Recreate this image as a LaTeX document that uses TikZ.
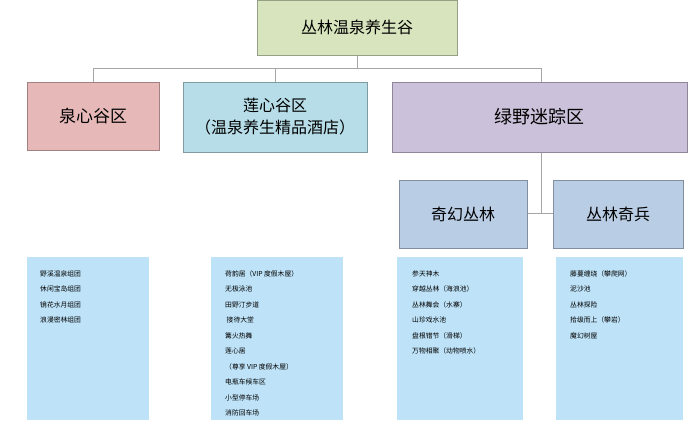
\documentclass[tikz,border=0pt]{standalone}
\usepackage{fontspec}
\setmainfont{Noto Sans CJK SC}
\begin{document}
\begin{tikzpicture}[x=1pt,y=-1pt,
 bx/.style={draw=#1!70!black,line width=0.6pt,inner sep=0pt},
 lst/.style={fill=lb,draw=none},
 item/.style={anchor=west,font=\fontsize{6.8}{7}\selectfont,inner sep=0pt},
 ln/.style={draw=gray!70,line width=0.8pt}]
\definecolor{gtop}{HTML}{D7E4BD}
\definecolor{pk}{HTML}{E6B9B8}
\definecolor{bl}{HTML}{B7DEE8}
\definecolor{lv}{HTML}{CCC1DA}
\definecolor{sb}{HTML}{B9CDE5}
\definecolor{lb}{HTML}{BEE3F8}
\useasboundingbox (0,0) rectangle (700,420);
\fill[white] (0,0) rectangle (700,420);
% connectors
\coordinate (h1) at (93,68); \coordinate (h2) at (541,68);
\draw[ln] (357,55) -- (357,68);
\draw[ln] (h1) -- (h2);
\draw[ln] (93,68) -- (93,82);
\draw[ln] (275,68) -- (275,82);
\draw[ln] (541,68) -- (541,82);
\draw[ln] (541,152) -- (541,213);
\draw[ln] (527,213) -- (553,213);
% boxes
\node[bx=gtop,fill=gtop,minimum width=200pt,minimum height=55pt,font=\fontsize{16}{18}\selectfont] (top) at (357,27.5) {丛林温泉养生谷};
\node[bx=pk,fill=pk,minimum width=132pt,minimum height=68pt,font=\fontsize{17}{18}\selectfont] (a) at (93,116) {泉心谷区};
\node[bx=bl,fill=bl,minimum width=184pt,minimum height=70pt,font=\fontsize{16}{22}\selectfont,align=center] (b) at (275,117) {莲心谷区\\（温泉养生精品酒店）};
\node[bx=lv,fill=lv,minimum width=295pt,minimum height=70pt,font=\fontsize{18}{18}\selectfont] (c) at (539.5,117) {绿野迷踪区};
\node[bx=sb,fill=sb,minimum width=128pt,minimum height=68pt,font=\fontsize{16}{18}\selectfont] (c1) at (463,214) {奇幻丛林};
\node[bx=sb,fill=sb,minimum width=130pt,minimum height=68pt,font=\fontsize{16}{18}\selectfont] (c2) at (618,214) {丛林奇兵};
% lists
\fill[lst] (27,257) rectangle (149,420);
\fill[lst] (211,257) rectangle (343,420);
\fill[lst] (397,257) rectangle (523,420);
\fill[lst] (556,257) rectangle (683,420);
\foreach \t [count=\i] in {野溪温泉组团,休闲宝岛组团,镜花水月组团,浪漫密林组团}
  \node[item] (l1-\i) at (40,{258+15.5*\i}) {\t};
\foreach \t [count=\i] in {荷韵居（VIP 度假木屋）,无极泳池,田野汀步道,\ 接待大堂,篝火热舞,莲心居,（尊享 VIP 度假木屋）,电瓶车候车区,小型停车场,消防回车场}
  \node[item] (l2-\i) at (225,{258+15.5*\i}) {\t};
\foreach \t [count=\i] in {参天神木,穿越丛林（海浪池）,丛林舞会（水寨）,山珍戏水池,盘根错节（滑梯）,万物相聚（动物喷水）}
  \node[item] (l3-\i) at (412,{258+15.5*\i}) {\t};
\foreach \t [count=\i] in {藤蔓缠绕（攀爬网）,泥沙池,丛林探险,拾级而上（攀岩）,魔幻树屋}
  \node[item] (l4-\i) at (570,{258+15.5*\i}) {\t};
\end{tikzpicture}
\end{document}
